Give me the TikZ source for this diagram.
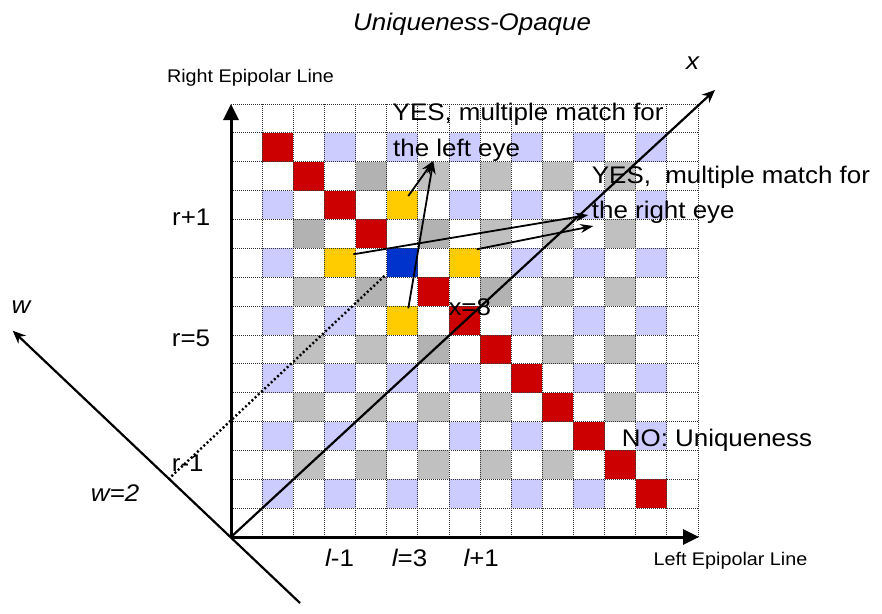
\documentclass[tikz,border=0pt]{standalone}
\usepackage{fontspec}
\setmainfont{Liberation Sans}
\usetikzlibrary{arrows.meta}
\definecolor{cred}{HTML}{CC0000}
\definecolor{clblue}{HTML}{CCCCFF}
\definecolor{cgrayL}{HTML}{C0C0C0}
\definecolor{cgrayD}{HTML}{B2B2B2}
\definecolor{cyellow}{HTML}{FFCC00}
\definecolor{cdblue}{HTML}{0033CC}
\newcommand\mycell[3]{\fill[#1] ({231+#2*31.133},{104+#3*28.867}) rectangle ++(31.133,28.867);}
\begin{document}
\begin{tikzpicture}[x=1pt,y=-1pt,
  gridline/.style={line width=0.8pt, black!80, dash pattern=on 1pt off 1pt},
  axisline/.style={line width=3pt, -{Triangle[length=16pt,width=15pt]}},
  diagaxis/.style={line width=2.2pt, -{Stealth[length=13pt,width=11pt]}},
  matcharrow/.style={line width=1.8pt, -{Stealth[length=13pt,width=9pt]}},
  dotline/.style={line width=2.4pt, dash pattern=on 2pt off 2.4pt},
  big/.style={inner sep=0pt, anchor=base west, xscale=1.08, font=\fontsize{24}{28}\selectfont},
  small/.style={inner sep=0pt, anchor=base west, xscale=1.08, font=\fontsize{18.3}{22}\selectfont}]
\useasboundingbox (0,0) rectangle (882,613);
\fill[white] (0,0) rectangle (882,613);
% red diagonal
\foreach \ci in {1,2,3,4,6,7,8,9,10,11,12,13}{\mycell{cred}{\ci}{\ci}}
% light blue (odd/odd)
\foreach \ci in {1,3,...,13}{\foreach \ri in {1,3,...,13}{\ifnum\ci=\ri\else\mycell{clblue}{\ci}{\ri}\fi}}
% gray (even/even)
\foreach \ci in {2,4,...,12}{\foreach \ri in {2,4,...,12}{\ifnum\ci=\ri\else\mycell{cgrayL}{\ci}{\ri}\fi}}
\foreach \ci/\ri in {4/2,6/4,8/6,2/4,4/6,6/8}{\mycell{cgrayD}{\ci}{\ri}}
% yellow and blue
\foreach \ci/\ri in {5/3,3/5,7/5,5/7}{\mycell{cyellow}{\ci}{\ri}}
\mycell{cdblue}{5}{5}
% grid
\foreach \k in {0,...,15}{
  \draw[gridline] ({231+\k*31.133},104) -- ({231+\k*31.133},537);
  \draw[gridline] (231,{104+\k*28.867}) -- (698,{104+\k*28.867});
}
% coordinates
\coordinate (O) at (231,537);
\coordinate (Ytip) at (231,104);
\coordinate (Xtip) at (699,537);
\coordinate (Dtip) at (715,90);
\coordinate (Wtip) at (12.7,330.7);
\coordinate (Wend) at (300,603);
\coordinate (Ws) at (168.3,479.3);
\coordinate (We) at (385.5,275);
\coordinate (Ya) at (408.3,308.3);
\coordinate (Yb) at (408.3,196);
\coordinate (Yc) at (353.3,254.3);
\coordinate (Yd) at (476.7,249.3);
\coordinate (Lt) at (433.3,161);
\coordinate (Rt1) at (588.3,215);
\coordinate (Rt2) at (593.3,226);
% texts
\node[big,font=\fontsize{24}{28}\selectfont\itshape] (title) at (353,30) {Uniqueness-Opaque};
\node[big,font=\fontsize{24}{28}\selectfont\itshape] (xl) at (686,69) {x};
\node[small] (rel) at (166.8,82.6) {Right Epipolar Line};
\node[big] (yes1) at (392.5,120.7) {YES, multiple match for};
\node[big] (yes1b) at (393,156.7) {the left eye};
\node[big] (yes2) at (591.7,183.3) {YES,\ \ multiple match for};
\node[big] (yes2b) at (591.7,218) {the right eye};
\node[big] (r1) at (172,225.5) {r+1};
\node[big] (x8) at (448.3,315) {x=8};
\node[big,font=\fontsize{24}{28}\selectfont\itshape] (wl) at (11.5,313) {w};
\node[big] (r5) at (171.7,346.7) {r=5};
\node[big] (no) at (621.7,446.7) {NO: Uniqueness};
\node[big] (rm1) at (171.7,471.7) {r-1};
\node[big,font=\fontsize{24}{28}\selectfont\itshape] (w2) at (90.7,501.7) {w=2};
\node[big] (lm1) at (325,566.7) {{\itshape l}-1};
\node[big] (l3) at (391.7,566.7) {{\itshape l}=3};
\node[big] (lp1) at (463.3,566.7) {{\itshape l}+1};
\node[small] (lel) at (653.3,565) {Left Epipolar Line};
% axes
\draw[axisline] (O) -- (Ytip);
\draw[axisline] (O) -- (Xtip);
\draw[diagaxis] (O) -- (Dtip);
\draw[diagaxis] (Wend) -- (Wtip);
\draw[dotline] (Ws) -- (We);
% match arrows
\draw[matcharrow] (Ya) -- (Lt);
\draw[matcharrow] (Yb) -- (Lt);
\draw[matcharrow] (Yc) -- (Rt1);
\draw[matcharrow] (Yd) -- (Rt2);
\end{tikzpicture}
\end{document}
